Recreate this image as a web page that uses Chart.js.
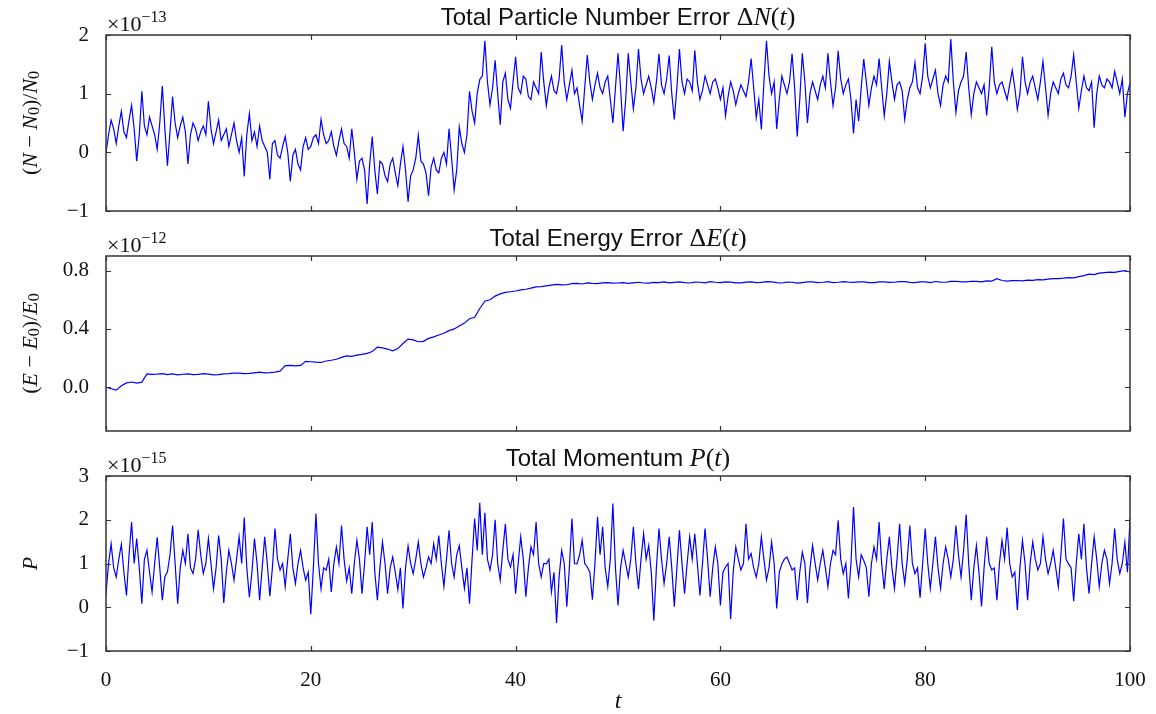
<!DOCTYPE html>
<html>
<head>
<meta charset="utf-8">
<script src="https://cdn.jsdelivr.net/npm/chart.js@4.4.1/dist/chart.umd.min.js"></script>
<style>
  body { margin: 0; background: #fff; }
  #wrap { position: relative; width: 1156px; height: 714px; }
  #wrap canvas { position: absolute; left: 0; top: 0; }
</style>
</head>
<body>
<div id="wrap">
  <canvas id="c1" width="1156" height="714"></canvas>
  <canvas id="c2" width="1156" height="714"></canvas>
  <canvas id="c3" width="1156" height="714"></canvas>
</div>
<script>
"use strict";

// time grid steps
let particleStep = 0.25;
let energyStep = 0.5;
let momentumStep = 0.25;

// (N - N0)/N0 in units of 1e-13, t = 0..100 every 0.25 (10 values per row)
let particleErr = [
  0.0, 0.3, 0.55, 0.4, 0.15, 0.45, 0.7, 0.35, 0.25, 0.55,
  0.8, 0.4, -0.15, 0.3, 1.04, 0.45, 0.3, 0.6, 0.45, 0.3,
  0.05, 0.5, 1.13, 0.4, -0.23, 0.35, 0.95, 0.5, 0.25, 0.45,
  0.6, 0.35, -0.2, 0.3, 0.5, 0.4, 0.2, 0.35, 0.45, 0.3,
  0.87, 0.4, 0.15, 0.35, 0.55, 0.2, 0.3, 0.4, 0.1, 0.3,
  0.5, 0.2, 0.0, 0.25, -0.41, 0.3, 0.66, 0.2, 0.35, 0.1,
  0.45, 0.2, 0.1, 0.0, -0.46, 0.15, 0.2, -0.05, -0.1, 0.1,
  0.27, 0.0, -0.49, -0.05, 0.05, -0.2, -0.3, 0.1, 0.25, 0.05,
  0.1, 0.25, 0.3, 0.15, 0.56, 0.3, 0.15, 0.2, 0.35, 0.1,
  -0.05, 0.2, 0.4, 0.15, 0.1, -0.1, 0.4, 0.0, -0.46, -0.15,
  -0.1, -0.3, -0.88, -0.2, 0.27, -0.3, -0.71, -0.15, -0.2, -0.4,
  -0.5, -0.2, -0.1, -0.35, -0.57, -0.2, 0.1, -0.3, -0.84, -0.4,
  -0.3, -0.1, 0.29, -0.15, -0.2, -0.35, -0.74, -0.25, -0.1, -0.3,
  -0.35, -0.1, 0.0, -0.2, 0.4, -0.1, -0.64, -0.3, 0.43, 0.15,
  0.0, 0.3, 1.04, 0.7, 0.5, 1.0, 1.24, 1.3, 1.9, 1.2,
  0.81, 1.1, 1.57, 1.0, 0.47, 1.2, 1.35, 0.9, 0.75, 1.2,
  1.63, 1.1, 1.0, 1.3, 1.25, 0.95, 0.9, 1.2, 1.1, 1.0,
  1.71, 1.2, 0.8, 1.1, 1.3, 1.05, 1.0, 1.25, 1.83, 1.2,
  0.9, 1.15, 1.4, 1.0, 1.1, 0.8, 0.53, 1.1, 1.66, 1.2,
  0.9, 1.15, 1.35, 1.1, 1.0, 1.2, 1.3, 0.9, 0.5, 1.1,
  1.69, 1.1, 0.36, 0.9, 1.69, 1.2, 0.74, 1.1, 1.76, 1.25,
  1.0, 1.15, 1.3, 1.1, 0.85, 1.2, 1.68, 1.15, 1.0, 1.25,
  1.65, 1.0, 0.56, 1.1, 1.76, 1.2, 1.0, 1.25, 1.2, 1.05,
  1.74, 1.2, 0.9, 1.05, 1.3, 1.15, 1.0, 1.2, 1.25, 1.1,
  0.9, 1.1, 0.62, 0.95, 1.2, 1.05, 0.81, 1.0, 1.15, 1.05,
  0.95, 1.2, 1.6, 1.1, 0.59, 0.9, 0.39, 1.2, 1.9, 1.3,
  1.0, 1.2, 0.4, 0.9, 1.3, 1.15, 1.0, 1.2, 1.68, 1.1,
  0.27, 0.9, 1.69, 1.2, 0.5, 1.0, 1.2, 1.05, 0.9, 1.15,
  1.3, 1.1, 1.69, 1.2, 0.8, 1.1, 1.73, 1.25, 1.0, 1.15,
  1.25, 0.9, 0.32, 0.9, 0.53, 1.1, 1.59, 1.2, 0.8, 1.1,
  1.3, 1.15, 1.6, 1.1, 0.62, 1.0, 1.55, 1.2, 0.9, 1.15,
  1.2, 1.05, 0.56, 0.9, 1.1, 1.2, 1.53, 1.1, 1.0, 1.3,
  1.86, 1.3, 1.1, 1.25, 1.4, 1.0, 0.8, 1.15, 1.3, 1.2,
  1.93, 1.2, 0.68, 1.05, 1.2, 1.3, 1.71, 1.1, 0.64, 1.0,
  1.2, 1.1, 1.0, 1.15, 0.63, 1.1, 1.8, 1.2, 1.0, 1.15,
  1.2, 1.05, 0.9, 1.15, 1.4, 1.1, 0.73, 1.0, 1.63, 1.2,
  1.0, 1.2, 1.3, 1.1, 0.9, 1.2, 1.55, 1.1, 0.63, 1.0,
  1.2, 1.1, 1.0, 1.25, 1.35, 1.15, 1.1, 1.3, 1.66, 1.2,
  0.75, 1.05, 1.3, 1.1, 1.05, 1.2, 0.42, 1.0, 1.3, 1.15,
  1.1, 1.25, 1.2, 1.1, 1.38, 1.2, 1.0, 1.25, 0.6, 1.0,
  1.18
];

// (E - E0)/E0 in units of 1e-12, t = 0..100 every 0.5
let energyErr = [
  0.000, -0.010, -0.020, 0.010, 0.030, 0.036, 0.028, 0.035, 0.092, 0.088,
  0.090, 0.094, 0.086, 0.091, 0.085, 0.089, 0.092, 0.087, 0.088, 0.093,
  0.090, 0.085, 0.086, 0.092, 0.093, 0.097, 0.097, 0.094, 0.095, 0.099,
  0.103, 0.098, 0.100, 0.104, 0.110, 0.148, 0.150, 0.146, 0.150, 0.178,
  0.175, 0.172, 0.170, 0.180, 0.185, 0.192, 0.205, 0.215, 0.212, 0.220,
  0.225, 0.232, 0.245, 0.275, 0.270, 0.262, 0.250, 0.265, 0.300, 0.330,
  0.325, 0.312, 0.315, 0.335, 0.345, 0.358, 0.370, 0.388, 0.400, 0.420,
  0.440, 0.470, 0.480, 0.540, 0.590, 0.600, 0.625, 0.640, 0.650, 0.655,
  0.660, 0.668, 0.672, 0.680, 0.688, 0.690, 0.695, 0.700, 0.705, 0.702,
  0.703, 0.710, 0.712, 0.708, 0.715, 0.712, 0.710, 0.716, 0.718, 0.714,
  0.715, 0.718, 0.712, 0.716, 0.720, 0.715, 0.714, 0.719, 0.718, 0.722,
  0.716, 0.719, 0.722, 0.717, 0.715, 0.721, 0.720, 0.716, 0.724, 0.720,
  0.718, 0.723, 0.721, 0.716, 0.716, 0.721, 0.722, 0.718, 0.719, 0.724,
  0.723, 0.718, 0.715, 0.721, 0.720, 0.714, 0.718, 0.722, 0.722, 0.717,
  0.720, 0.724, 0.717, 0.720, 0.724, 0.721, 0.719, 0.723, 0.722, 0.718,
  0.718, 0.722, 0.723, 0.719, 0.720, 0.724, 0.724, 0.719, 0.718, 0.722,
  0.722, 0.718, 0.725, 0.721, 0.720, 0.726, 0.727, 0.722, 0.722, 0.727,
  0.726, 0.723, 0.730, 0.728, 0.745, 0.732, 0.728, 0.731, 0.732, 0.729,
  0.735, 0.733, 0.738, 0.736, 0.742, 0.745, 0.745, 0.748, 0.752, 0.750,
  0.758, 0.765, 0.775, 0.772, 0.782, 0.786, 0.790, 0.788, 0.795, 0.800,
  0.790
];

// P in units of 1e-15, t = 0..100 every 0.25 (10 values per row)
let momentum = [
  0.31, 1.0, 1.45, 0.9, 0.69, 1.1, 1.44, 0.8, 0.27, 1.2,
  1.95, 1.0, 1.57, 0.9, 0.08, 1.1, 1.30, 0.8, 0.35, 1.0,
  1.60, 0.9, 0.16, 0.7, 0.81, 1.2, 1.87, 1.0, 0.08, 0.9,
  1.30, 1.0, 1.68, 0.9, 0.77, 1.1, 1.77, 1.2, 0.77, 1.0,
  1.57, 1.0, 0.42, 0.9, 1.64, 1.1, 0.10, 0.8, 1.30, 1.0,
  0.62, 1.1, 1.61, 1.0, 2.05, 0.9, 0.23, 0.8, 1.57, 1.0,
  0.16, 0.9, 1.61, 1.0, 0.25, 0.9, 1.80, 1.1, 0.85, 1.0,
  0.47, 1.1, 1.68, 0.9, 0.54, 1.0, 1.30, 0.9, 0.62, 0.8,
  -0.16, 0.9, 2.14, 1.0, 0.42, 0.9, 0.85, 1.1, 0.35, 1.0,
  1.38, 1.0, 1.87, 1.1, 0.60, 0.9, 0.31, 1.0, 1.53, 1.1,
  0.31, 1.0, 1.84, 1.2, 1.95, 0.8, 0.16, 0.9, 1.49, 1.0,
  0.31, 0.9, 1.15, 0.8, 0.40, 0.9, -0.03, 0.9, 1.40, 1.0,
  0.77, 1.1, 1.49, 1.0, 0.69, 0.9, 1.15, 1.0, 1.45, 1.1,
  1.64, 1.0, 0.47, 1.1, 1.76, 1.0, 0.69, 1.2, 1.41, 0.9,
  0.43, 0.9, 0.08, 1.1, 2.03, 1.3, 2.39, 1.2, 2.16, 1.1,
  0.85, 1.2, 2.0, 1.0, 0.62, 1.3, 1.91, 1.1, 0.92, 1.2,
  0.31, 1.0, 1.61, 1.1, 0.24, 0.9, 1.38, 1.2, 1.95, 1.0,
  0.69, 1.0, 0.99, 1.1, 0.35, 0.8, -0.36, 0.7, 1.30, 1.0,
  0.01, 0.9, 2.03, 1.0, 0.99, 1.2, 1.53, 1.0, 0.92, 0.8,
  0.17, 1.0, 2.07, 1.2, 1.84, 0.9, 0.47, 1.1, 2.37, 0.9,
  0.04, 0.9, 1.30, 1.0, 0.69, 1.1, 1.84, 1.0, 0.42, 1.1,
  1.68, 1.1, 1.41, 0.8, -0.31, 0.9, 1.80, 1.1, 0.54, 1.0,
  1.61, 0.9, 0.01, 0.9, 1.76, 1.0, 0.31, 1.0, 1.61, 1.1,
  1.68, 1.0, 0.27, 1.0, 1.80, 1.1, 0.24, 0.9, 1.38, 1.0,
  0.04, 0.8, 0.92, 1.0, -0.27, 0.8, 1.38, 1.1, 0.85, 1.0,
  1.91, 1.1, 1.23, 0.9, 0.69, 1.0, 1.61, 1.1, 0.62, 0.9,
  1.49, 1.0, -0.03, 0.8, 0.99, 1.1, 1.15, 1.0, 0.85, 0.9,
  0.16, 0.8, 1.26, 1.0, 0.10, 0.9, 1.41, 1.0, 0.62, 1.0,
  1.30, 0.9, 0.47, 1.0, 1.30, 1.2, 1.99, 1.1, 0.77, 1.0,
  0.20, 1.0, 2.29, 1.1, 0.69, 1.2, 1.07, 0.9, 0.24, 1.0,
  1.38, 1.1, 1.95, 1.0, 0.42, 1.1, 1.61, 0.9, 0.43, 1.1,
  1.91, 1.0, 0.54, 1.1, 1.87, 1.0, 0.77, 0.9, 0.22, 1.0,
  1.80, 1.0, 0.43, 1.0, 1.61, 0.9, 0.43, 1.0, 1.38, 1.1,
  0.69, 1.1, 1.87, 1.2, 0.69, 1.3, 2.12, 1.0, 0.16, 0.9,
  1.41, 0.8, 0.02, 0.9, 1.61, 1.0, 0.85, 0.9, 0.16, 1.0,
  1.53, 1.1, 1.82, 1.0, 0.69, 0.8, -0.06, 0.9, 1.53, 1.0,
  0.16, 1.0, 1.49, 1.1, 0.85, 1.0, 1.61, 1.1, 0.77, 1.0,
  1.30, 0.9, 0.47, 1.2, 2.03, 1.1, 0.99, 0.9, 0.14, 1.0,
  1.68, 1.1, 1.91, 0.9, 0.31, 1.0, 1.61, 1.1, 0.47, 1.0,
  1.30, 1.1, 0.54, 1.0, 1.80, 1.1, 0.77, 1.0, 1.49, 0.8,
  2.03
];

let xTicks = [0, 20, 40, 60, 80, 100];
let particleTicks = [-1, 0, 1, 2];
let energyTicks = [0.0, 0.4, 0.8];
let momentumTicks = [-1, 0, 1, 2, 3];

const sans = (s) => s + 'px "Liberation Sans", Arial, sans-serif';
const rm = (s) => s + 'px "Liberation Serif", "DejaVu Serif", serif';
const it = (s) => 'italic ' + s + 'px "Liberation Serif", "DejaVu Serif", serif';

function richWidth(ctx, parts) {
  let w = 0;
  for (let p of parts) {
    ctx.font = p.font;
    w += ctx.measureText(p.text).width;
  }
  return w;
}

function drawRich(ctx, parts, x, y) {
  for (let p of parts) {
    ctx.font = p.font;
    ctx.fillText(p.text, x, y + (p.dy || 0));
    x += ctx.measureText(p.text).width;
  }
}

function titleParts(words, sym) {
  return [
    { text: words + ' ', font: sans(24) },
    ...sym,
    { text: '(', font: rm(26) },
    { text: 't', font: it(26) },
    { text: ')', font: rm(26) }
  ];
}

function ratioLabel(letter) {
  return [
    { text: '(', font: rm(22) },
    { text: letter, font: it(22) },
    { text: ' \u2212 ', font: rm(22) },
    { text: letter, font: it(22) },
    { text: '0', font: rm(16), dy: 4 },
    { text: ')/', font: rm(22) },
    { text: letter, font: it(22) },
    { text: '0', font: rm(16), dy: 4 }
  ];
}

// frame, inward ticks and extra text
const decoPlugin = {
  id: 'deco',
  afterDraw(chart, args, opts) {
    const ctx = chart.ctx;
    const a = chart.chartArea;
    const xs = chart.scales.x;
    const ys = chart.scales.y;
    ctx.save();
    ctx.strokeStyle = '#333';
    ctx.lineWidth = 1.5;
    ctx.strokeRect(a.left, a.top, a.right - a.left, a.bottom - a.top);
    ctx.lineWidth = 1.2;
    ctx.beginPath();
    for (let v of xTicks) {
      let px = Math.round(xs.getPixelForValue(v)) + 0.5;
      ctx.moveTo(px, a.bottom); ctx.lineTo(px, a.bottom - 5);
      ctx.moveTo(px, a.top); ctx.lineTo(px, a.top + 5);
    }
    for (let v of opts.yTicks) {
      let py = Math.round(ys.getPixelForValue(v)) + 0.5;
      ctx.moveTo(a.left, py); ctx.lineTo(a.left + 5, py);
      ctx.moveTo(a.right, py); ctx.lineTo(a.right - 5, py);
    }
    ctx.stroke();

    ctx.fillStyle = '#111';
    ctx.textBaseline = 'alphabetic';
    ctx.textAlign = 'left';
    // title
    let cx = (a.left + a.right) / 2;
    let w = richWidth(ctx, opts.title);
    drawRich(ctx, opts.title, cx - w / 2, a.top - 10);
    // offset text
    drawRich(ctx, [
      { text: '\u00d710', font: rm(22) },
      { text: '\u2212' + opts.exponent, font: rm(16), dy: -9 }
    ], a.left + 1, a.top - 4);
    // y label
    ctx.save();
    ctx.translate(31, (a.top + a.bottom) / 2);
    ctx.rotate(-Math.PI / 2);
    ctx.textBaseline = 'middle';
    let lw = richWidth(ctx, opts.ylabel);
    drawRich(ctx, opts.ylabel, -lw / 2, 0);
    ctx.restore();
    // x label
    if (opts.xlabel) {
      ctx.textBaseline = 'middle';
      let xw = richWidth(ctx, opts.xlabel);
      drawRich(ctx, opts.xlabel, cx - xw / 2, 702);
    }
    ctx.restore();
  }
};

function makePanel(id, values, step, cfg) {
  let points = values.map((v, i) => ({ x: i * step, y: v }));
  return new Chart(document.getElementById(id), {
    type: 'line',
    data: {
      datasets: [{
        data: points,
        borderColor: '#0000ff',
        borderWidth: 1.2,
        pointRadius: 0,
        tension: 0,
        fill: false
      }]
    },
    options: {
      responsive: false,
      animation: false,
      events: [],
      layout: { padding: { left: 0, right: 26, top: cfg.top, bottom: cfg.padBottom } },
      plugins: {
        legend: { display: false },
        tooltip: { enabled: false },
        deco: {
          title: cfg.title,
          exponent: cfg.exponent,
          ylabel: cfg.ylabel,
          yTicks: cfg.yTicks,
          xlabel: cfg.xlabel
        }
      },
      scales: {
        x: {
          type: 'linear',
          min: 0,
          max: 100,
          grid: { display: false },
          border: { display: false },
          afterBuildTicks: (s) => { s.ticks = xTicks.map((v) => ({ value: v })); },
          afterFit: (s) => { s.height = cfg.showX ? 40 : 0; },
          ticks: {
            display: cfg.showX,
            font: { family: '"Liberation Serif", serif', size: 21 },
            color: '#111',
            padding: 9,
            maxRotation: 0
          }
        },
        y: {
          min: cfg.min,
          max: cfg.max,
          grid: { display: false },
          border: { display: false },
          afterBuildTicks: (s) => { s.ticks = cfg.yTicks.map((v) => ({ value: v })); },
          afterFit: (s) => { s.width = 106; },
          ticks: {
            font: { family: '"Liberation Serif", serif', size: 21 },
            color: '#111',
            padding: 9,
            callback: cfg.fmt
          }
        }
      }
    },
    plugins: [decoPlugin]
  });
}

const intFmt = (v) => String(v).replace('-', '\u2212');

makePanel('c1', particleErr, particleStep, {
  top: 35, padBottom: 714 - 211, showX: false,
  min: -1, max: 2, yTicks: particleTicks, fmt: intFmt,
  exponent: '13',
  title: titleParts('Total Particle Number Error', [
    { text: '\u0394', font: rm(26) }, { text: 'N', font: it(26) }
  ]),
  ylabel: ratioLabel('N')
});

makePanel('c2', energyErr, energyStep, {
  top: 256, padBottom: 714 - 431, showX: false,
  min: -0.3, max: 0.9, yTicks: energyTicks, fmt: (v) => v.toFixed(1),
  exponent: '12',
  title: titleParts('Total Energy Error', [
    { text: '\u0394', font: rm(26) }, { text: 'E', font: it(26) }
  ]),
  ylabel: ratioLabel('E')
});

makePanel('c3', momentum, momentumStep, {
  top: 476, padBottom: 714 - 651 - 40, showX: true,
  min: -1, max: 3, yTicks: momentumTicks, fmt: intFmt,
  exponent: '15',
  title: titleParts('Total Momentum', [{ text: 'P', font: it(26) }]),
  ylabel: [{ text: 'P', font: it(22) }],
  xlabel: [{ text: 't', font: it(24) }]
});
</script>
</body>
</html>
